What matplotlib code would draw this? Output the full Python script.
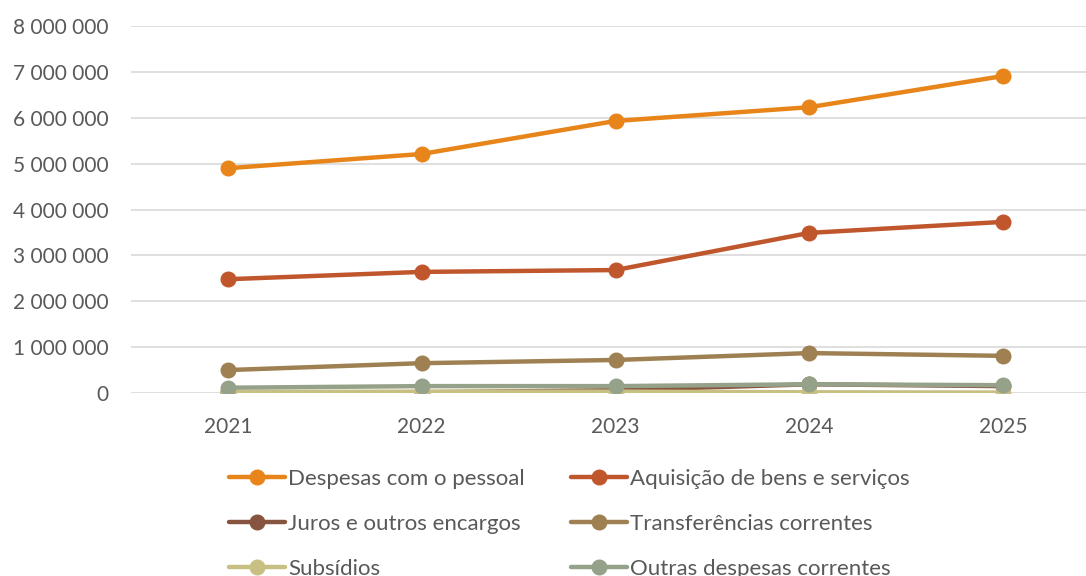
import matplotlib

matplotlib.use("Agg")
import matplotlib.pyplot as plt
from matplotlib.ticker import FuncFormatter

plt.rcParams["font.family"] = ["Lato", "DejaVu Sans"]

# dados
anos = ["2021", "2022", "2023", "2024", "2025"]
despesas_pessoal = [4900000, 5210000, 5930000, 6230000, 6910000]
aquisicao_bens = [2480000, 2640000, 2680000, 3490000, 3730000]
juros_encargos = [15000, 15000, 60000, 190000, 150000]
transferencias = [500000, 650000, 720000, 870000, 810000]
subsidios = [20000, 30000, 30000, 15000, 10000]
outras_despesas = [115000, 150000, 150000, 190000, 170000]

series = [
    ("Despesas com o pessoal", despesas_pessoal, "#E8851A"),
    ("Aquisição de bens e serviços", aquisicao_bens, "#C0562C"),
    ("Juros e outros encargos", juros_encargos, "#87553F"),
    ("Transferências correntes", transferencias, "#9E8052"),
    ("Subsídios", subsidios, "#C8BF82"),
    ("Outras despesas correntes", outras_despesas, "#95A289"),
]

fig = plt.figure(figsize=(10.86, 5.76), dpi=100)
ax = fig.add_axes([131 / 1086, 183 / 576, 969 / 1086, 367 / 576])

x = range(len(anos))
handles = []
for nome, valores, cor in series:
    (h,) = ax.plot(x, valores, color=cor, linewidth=3.2, marker="o",
                   markersize=10.5, label=nome, solid_capstyle="round")
    handles.append(h)

ax.set_xlim(-0.5, len(anos) - 0.5)
ax.set_ylim(0, 8000000)
ax.set_yticks(range(0, 8000001, 1000000))
ax.yaxis.set_major_formatter(FuncFormatter(lambda v, p: f"{int(v):,}".replace(",", " ")))
ax.set_xticks(list(x))
ax.set_xticklabels(anos)
ax.grid(axis="y", color="#D9D9D9", linewidth=1.2)
ax.set_axisbelow(True)
for s in ax.spines.values():
    s.set_visible(False)
ax.tick_params(axis="both", length=0, labelsize=15, colors="#595959")
ax.tick_params(axis="x", pad=17)
ax.tick_params(axis="y", pad=16)

# ordem por linhas, como no original
ordem = [0, 2, 4, 1, 3, 5]
fig.legend([handles[i] for i in ordem], [series[i][0] for i in ordem],
           ncols=2, loc="upper left", bbox_to_anchor=(229 / 1086, 1 - 469 / 576),
           frameon=False, fontsize=16, labelcolor="#595959",
           handlelength=2.5, handletextpad=0.15, columnspacing=2.1,
           labelspacing=1.13, borderaxespad=0, borderpad=0)

fig.savefig("out.png", dpi=100)
